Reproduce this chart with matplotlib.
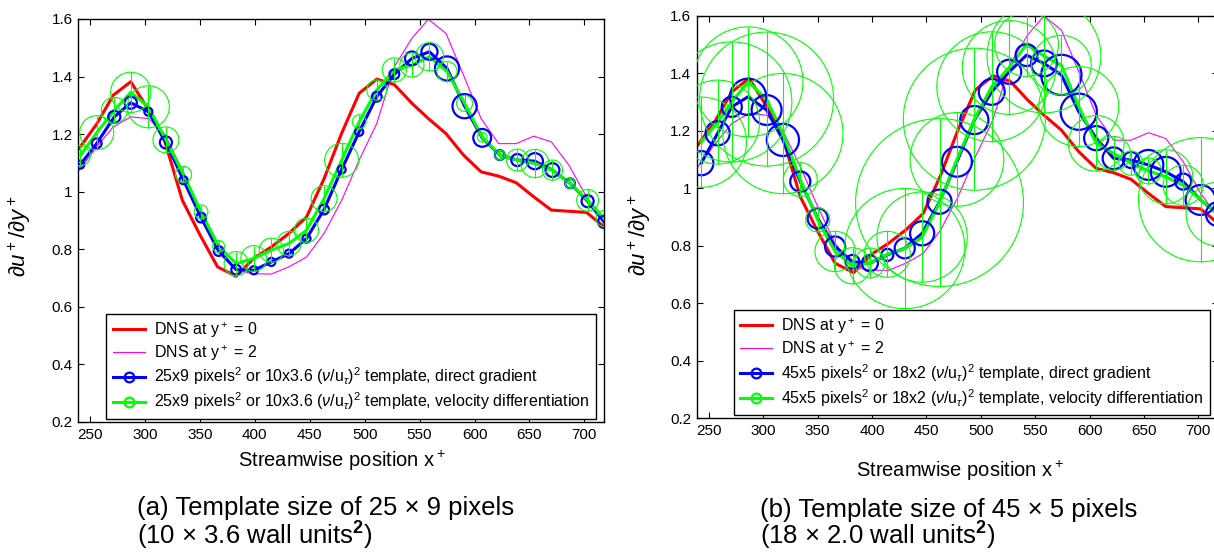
import matplotlib
matplotlib.use("Agg")
import matplotlib.pyplot as plt
from matplotlib.lines import Line2D

plt.rcParams['font.family'] = ['Liberation Sans', 'DejaVu Sans']
plt.rcParams['mathtext.fontset'] = 'custom'
plt.rcParams['mathtext.rm'] = 'Liberation Sans'
plt.rcParams['mathtext.it'] = 'Liberation Sans:italic'
plt.rcParams['mathtext.bf'] = 'Liberation Sans:bold'

# DNS reference (same field in both panels)
dns_x = [240, 256, 271, 287, 303, 318, 334, 350, 366, 383, 399, 415, 431, 447, 463, 479,
         495, 511, 527, 543, 558, 574, 590, 606, 622, 638, 654, 670, 686, 702, 718]
dns_y0 = [1.151, 1.235, 1.335, 1.382, 1.285, 1.175, 0.970, 0.850, 0.739, 0.706, 0.769,
          0.808, 0.855, 0.912, 1.045, 1.203, 1.342, 1.391, 1.372, 1.307, 1.254, 1.202,
          1.127, 1.069, 1.054, 1.031, 0.982, 0.936, 0.932, 0.928, 0.878]
dns_y2 = [1.075, 1.156, 1.225, 1.260, 1.254, 1.200, 1.075, 0.936, 0.808, 0.727, 0.715,
          0.714, 0.739, 0.773, 0.855, 0.970, 1.110, 1.237, 1.434, 1.533, 1.599, 1.550,
          1.405, 1.254, 1.167, 1.167, 1.193, 1.173, 1.092, 0.982, 0.900]

# (a) 25x9 template
xa = [241, 256, 272, 287, 303, 319, 335, 351, 367, 383, 399, 415, 431, 447, 463, 479,
      495, 511, 527, 543, 559, 575, 591, 607, 623, 639, 655, 671, 687, 703, 718]
grad_a = [1.094, 1.168, 1.260, 1.309, 1.278, 1.171, 1.040, 0.910, 0.794, 0.729, 0.727,
          0.756, 0.785, 0.837, 0.938, 1.077, 1.208, 1.330, 1.408, 1.463, 1.486, 1.428,
          1.297, 1.187, 1.127, 1.110, 1.106, 1.075, 1.029, 0.967, 0.895]
grad_a_err = [0.014, 0.017, 0.021, 0.021, 0.014, 0.021, 0.014, 0.017, 0.017, 0.017, 0.014,
              0.014, 0.014, 0.014, 0.017, 0.014, 0.014, 0.017, 0.017, 0.024, 0.028, 0.042,
              0.042, 0.031, 0.017, 0.021, 0.028, 0.024, 0.017, 0.021, 0.021]
vel_a = [1.125, 1.205, 1.283, 1.345, 1.295, 1.180, 1.060, 0.930, 0.810, 0.750, 0.768,
         0.797, 0.820, 0.866, 0.976, 1.109, 1.243, 1.353, 1.423, 1.440, 1.469, 1.417,
         1.307, 1.190, 1.127, 1.110, 1.098, 1.075, 1.029, 0.970, 0.907]
vel_a_err = [0.035, 0.059, 0.045, 0.070, 0.073, 0.045, 0.028, 0.024, 0.021, 0.042, 0.045,
             0.042, 0.042, 0.042, 0.045, 0.059, 0.024, 0.035, 0.042, 0.042, 0.049, 0.035,
             0.028, 0.017, 0.017, 0.038, 0.049, 0.035, 0.017, 0.038, 0.028]

# (b) 45x5 template
xb = [243, 258, 271, 286, 303, 318, 334, 350, 366, 382, 398, 414, 430, 446, 462, 478,
      494, 510, 526, 542, 558, 574, 590, 606, 622, 638, 654, 670, 686, 702, 718]
grad_b = [1.087, 1.191, 1.283, 1.318, 1.272, 1.168, 1.023, 0.895, 0.797, 0.744, 0.739,
          0.768, 0.791, 0.843, 0.953, 1.092, 1.237, 1.335, 1.405, 1.463, 1.434, 1.394,
          1.266, 1.174, 1.104, 1.098, 1.081, 1.057, 1.023, 0.959, 0.910]
grad_b_err = [0.042, 0.042, 0.035, 0.063, 0.052, 0.056, 0.035, 0.035, 0.035, 0.024, 0.028,
              0.021, 0.035, 0.042, 0.042, 0.052, 0.049, 0.045, 0.042, 0.038, 0.045, 0.070,
              0.063, 0.042, 0.038, 0.028, 0.052, 0.052, 0.028, 0.052, 0.042]
vel_b = [1.160, 1.230, 1.300, 1.370, 1.310, 1.190, 1.030, 0.890, 0.780, 0.730, 0.740,
         0.770, 0.790, 0.830, 0.950, 1.100, 1.240, 1.353, 1.420, 1.500, 1.460, 1.428,
         1.284, 1.156, 1.121, 1.087, 1.060, 1.040, 1.010, 0.960, 0.910]
vel_b_err = [0.157, 0.146, 0.209, 0.191, 0.233, 0.209, 0.059, 0.042, 0.070, 0.063, 0.052,
             0.080, 0.209, 0.157, 0.292, 0.163, 0.247, 0.191, 0.163, 0.111, 0.198, 0.104,
             0.139, 0.097, 0.059, 0.042, 0.045, 0.094, 0.070, 0.216, 0.111]

labels_a = ['DNS at y$^+$ = 0', 'DNS at y$^+$ = 2',
            r'25x9 pixels$^2$ or 10x3.6 ($\nu$/u$_\tau$)$^2$ template, direct gradient',
            r'25x9 pixels$^2$ or 10x3.6 ($\nu$/u$_\tau$)$^2$ template, velocity differentiation']
labels_b = ['DNS at y$^+$ = 0', 'DNS at y$^+$ = 2',
            r'45x5 pixels$^2$ or 18x2 ($\nu$/u$_\tau$)$^2$ template, direct gradient',
            r'45x5 pixels$^2$ or 18x2 ($\nu$/u$_\tau$)$^2$ template, velocity differentiation']

RED, MAG, BLUE, GREEN = '#ff0000', '#ff00ff', '#0000ff', '#00ff00'
DPI = 100


def circles(ax, x, y, err, color, lw):
    # circle radius = uncertainty, converted to pixels through the y scale
    p0 = ax.transData.transform((0, 0))
    p1 = ax.transData.transform((0, 1))
    ppu = p1[1] - p0[1]
    s = [(2 * e * ppu * 72 / DPI) ** 2 for e in err]
    ax.scatter(x, y, s=s, facecolors='none', edgecolors=color, linewidths=lw, zorder=5)


def panel(ax, xs, gy, ge, vy, ve, labels, ylab_y, xlab_pos):
    ax.set_xlim(239, 718)
    ax.set_ylim(0.2, 1.6)
    ax.plot(dns_x, dns_y0, color=RED, lw=2.2, zorder=2)
    ax.plot(dns_x, dns_y2, color=MAG, lw=0.8, zorder=2)
    ax.plot(xs, gy, color=BLUE, lw=2.2, zorder=3)
    circles(ax, xs, gy, ge, BLUE, 1.6)
    ax.plot(xs, vy, color=GREEN, lw=2.2, zorder=4)
    ax.errorbar(xs, vy, yerr=ve, fmt='none', ecolor=GREEN, elinewidth=0.8, capsize=0, zorder=6)
    circles(ax, xs, vy, ve, GREEN, 0.8)

    ax.set_xticks(range(250, 701, 50))
    ax.set_yticks([0.2, 0.4, 0.6, 0.8, 1.0, 1.2, 1.4, 1.6])
    ax.set_yticklabels(['0.2', '0.4', '0.6', '0.8', '1', '1.2', '1.4', '1.6'])
    ax.tick_params(direction='in', top=True, right=True, length=4, width=0.8,
                   labelsize=11, pad=4)
    for sp in ax.spines.values():
        sp.set_linewidth(1.0)
    ax.set_xlabel('Streamwise position x$^+$', fontsize=14.5, va='baseline')
    ax.xaxis.set_label_coords(*xlab_pos)
    ax.set_ylabel(r'$\partial u^+/\partial y^+$', fontsize=16)
    ax.yaxis.set_label_coords(-0.085, ylab_y)

    handles = [Line2D([], [], color=RED, lw=2.2),
               Line2D([], [], color=MAG, lw=0.8),
               Line2D([], [], color=BLUE, lw=2.2, marker='o', ms=7, mfc='none', mew=1.6),
               Line2D([], [], color=GREEN, lw=2.2, marker='o', ms=7, mfc='none', mew=1.6)]
    leg = ax.legend(handles, labels, loc='lower right', bbox_to_anchor=(0.985, 0.008),
                    borderaxespad=0, fontsize=11.5, fancybox=False, framealpha=1,
                    edgecolor='black', handlelength=2.0, handletextpad=0.6,
                    labelspacing=0.2, borderpad=0.4)
    leg.get_frame().set_linewidth(1.0)
    leg.set_zorder(10)


fig = plt.figure(figsize=(12.14, 5.53), dpi=DPI)
ax_a = fig.add_axes([0.0643, 0.2369, 0.4333, 0.7288])
ax_b = fig.add_axes([0.5741, 0.2438, 0.4292, 0.7278])

panel(ax_a, xa, grad_a, grad_a_err, vel_a, vel_a_err, labels_a, 0.46, (0.502, -0.112))
panel(ax_b, xb, grad_b, grad_b_err, vel_b, vel_b_err, labels_b, 0.455, (0.505, -0.146))

fig.text(0.113, 0.068, '(a) Template size of 25 × 9 pixels', fontsize=18.5, va='baseline')
fig.text(0.113, 0.016, r'(10 × 3.6 wall units$^\mathbf{2}$)', fontsize=18.5, va='baseline')
fig.text(0.626, 0.066, '(b) Template size of 45 × 5 pixels', fontsize=18.5, va='baseline')
fig.text(0.626, 0.015, r'(18 × 2.0 wall units$^\mathbf{2}$)', fontsize=18.5, va='baseline')

fig.savefig('out.png', dpi=DPI)
